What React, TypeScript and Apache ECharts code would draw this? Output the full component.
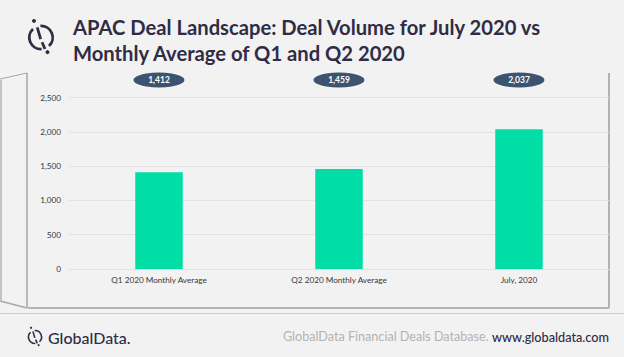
import React, { useEffect, useRef } from "react";
import * as echarts from "echarts";

const categories = ["Q1 2020 Monthly Average", "Q2 2020 Monthly Average", "July, 2020"];
const dealVolume = [1412, 1459, 2037];
const titleLines = "APAC Deal Landscape: Deal Volume for July 2020 vs\nMonthly Average of Q1 and Q2 2020";
const FONT = "Lato";
const DARK = "#2f2c45";

function logo(cx: number, cy: number, r: number) {
  const lw = r * 0.24;
  const line = { stroke: DARK, lineWidth: lw, fill: "none" };
  return [
    { type: "arc", shape: { cx, cy, r, startAngle: -1.62, endAngle: 0.82 }, style: line, silent: true },
    { type: "arc", shape: { cx, cy, r, startAngle: 1.52, endAngle: 3.96 }, style: line, silent: true },
    { type: "line", shape: { x1: cx - r * 0.32, y1: cy - r * 0.87, x2: cx - r * 0.03, y2: cy + r * 0.13 }, style: { stroke: DARK, lineWidth: lw } },
    { type: "line", shape: { x1: cx + r * 0.09, y1: cy + r * 0.41, x2: cx + r * 0.34, y2: cy + r * 0.98 }, style: { stroke: DARK, lineWidth: lw } },
    { type: "circle", shape: { cx: cx - r * 0.6, cy: cy - r * 1.42, r: r * 0.17 }, style: { fill: DARK } },
    { type: "circle", shape: { cx: cx + r * 0.55, cy: cy + r * 1.25, r: r * 0.17 }, style: { fill: DARK } },
  ];
}

export default function App() {
  const ref = useRef<HTMLDivElement>(null);
  useEffect(() => {
    document.body.style.margin = "0";
    const chart = echarts.init(ref.current!, undefined, { renderer: "svg" });
    chart.setOption({
      animation: false,
      backgroundColor: "#f2f2f2",
      grid: { left: 69, right: 15, top: 97.5, bottom: 88 },
      xAxis: {
        type: "category",
        data: categories,
        axisLine: { lineStyle: { color: "#e2e2e2", width: 1 } },
        axisTick: { show: false },
        axisLabel: { color: "#383838", fontSize: 8.2, fontFamily: FONT, margin: 7 },
      },
      yAxis: {
        type: "value",
        min: 0,
        max: 2500,
        interval: 500,
        axisLine: { show: false },
        axisTick: { show: false },
        splitLine: { lineStyle: { color: "#e2e2e2", width: 1 } },
        axisLabel: {
          color: "#383838",
          fontSize: 8.2,
          fontFamily: FONT,
          margin: 8,
          formatter: (v: number) => v.toLocaleString("en-US"),
        },
      },
      series: [
        {
          type: "bar",
          data: dealVolume,
          barWidth: 47.5,
          itemStyle: { color: "#00dea6" },
          z: 3,
          markPoint: {
            silent: true,
            symbol: "circle",
            symbolSize: [51, 15],
            itemStyle: { color: "#3c5470" },
            label: {
              show: true,
              color: "#ffffff",
              fontSize: 8.5,
              fontWeight: "bold",
              fontFamily: FONT,
              formatter: (p: any) => p.value.toLocaleString("en-US"),
            },
            data: dealVolume.map((v, i) => ({ xAxis: i, y: 80, value: v })),
          },
        },
      ],
      graphic: [
        {
          type: "group",
          z: -1,
          zlevel: 0,
          silent: true,
          children: [
            { type: "line", shape: { x1: 27, y1: 73, x2: 27, y2: 308 }, style: { stroke: "#a6a6a6", lineWidth: 1.5 } },
            { type: "line", shape: { x1: 609, y1: 73, x2: 609, y2: 308 }, style: { stroke: "#9c9c9c", lineWidth: 1.5 } },
            { type: "line", shape: { x1: 28, y1: 308, x2: 609, y2: 308 }, style: { stroke: "#b4b4b4", lineWidth: 2 } },
            { type: "polyline", shape: { points: [[0, 79], [27, 73]] }, style: { stroke: "#a6a6a6", lineWidth: 1, fill: "none" } },
            { type: "polyline", shape: { points: [[0, 301], [27, 308]] }, style: { stroke: "#a8a8a8", lineWidth: 1.5, fill: "none" } },
            { type: "line", shape: { x1: 1, y1: 80, x2: 1, y2: 301 }, style: { stroke: "#c4c4c4", lineWidth: 2 } },
            { type: "line", shape: { x1: 0, y1: 313.5, x2: 624, y2: 313.5 }, style: { stroke: "#cfcfcf", lineWidth: 1 } },
          ],
        },
        ...logo(41, 37.5, 11.7),
        ...logo(35, 337, 6.5),
        {
          type: "text",
          x: 73,
          y: 14,
          style: { text: titleLines, fill: DARK, font: `bold 20.2px ${FONT}`, lineHeight: 26 },
        },
        {
          type: "text",
          x: 48,
          y: 329,
          style: { text: "GlobalData.", fill: DARK, font: `500 16px ${FONT}` },
        },
        {
          type: "text",
          x: 609,
          y: 330,
          style: {
            text: "GlobalData Financial Deals Database. {b|www.globaldata.com}",
            fill: "#b3b3b3",
            font: `12.6px ${FONT}`,
            align: "right",
            rich: { b: { fill: DARK, font: `500 12.7px ${FONT}` } },
          },
        },
      ],
    });
    return () => chart.dispose();
  }, []);
  return <div ref={ref} style={{ width: 624, height: 357 }} />;
}
